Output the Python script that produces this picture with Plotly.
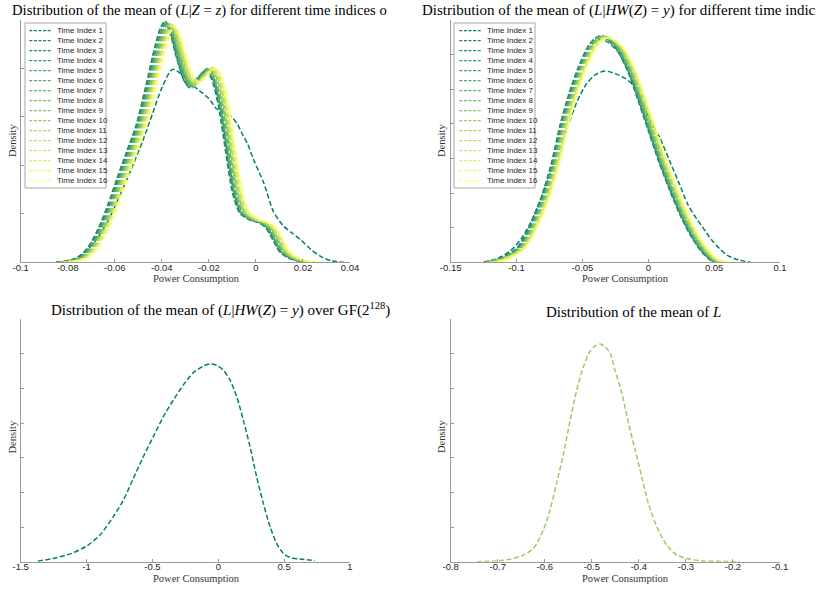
import plotly.graph_objects as go

W, H = 823, 589

# ---------------- data ----------------
LABELS = ["Time Index 1", "Time Index 2", "Time Index 3", "Time Index 4",
          "Time Index 5", "Time Index 6", "Time Index 7", "Time Index 8",
          "Time Index 9", "Time Index 10", "Time Index 11", "Time Index 12",
          "Time Index 13", "Time Index 14", "Time Index 15", "Time Index 16"]

COLORS = ["rgb(0,128,102)", "rgb(17,136,102)", "rgb(34,145,102)", "rgb(51,153,102)",
          "rgb(68,162,102)", "rgb(85,170,102)", "rgb(102,179,102)", "rgb(119,187,102)",
          "rgb(136,196,102)", "rgb(153,204,102)", "rgb(170,213,102)", "rgb(187,221,102)",
          "rgb(204,230,102)", "rgb(221,238,102)", "rgb(238,247,102)", "rgb(255,255,102)"]

# Top-left: (L|Z=z) per time index
TL_X = [
    [-0.085, -0.078, -0.073, -0.068, -0.063, -0.058, -0.053, -0.048, -0.044, -0.040, -0.0355, -0.031, -0.027, -0.024, -0.020, -0.017, -0.0135, -0.0108, -0.008, -0.0055, -0.0035, -0.001, 0.0034, 0.0075, 0.0119, 0.0155, 0.0191, 0.0235, 0.0277, 0.032, 0.0375],
    [-0.085, -0.079, -0.075, -0.071, -0.067, -0.063, -0.059, -0.055, -0.051, -0.047, -0.043, -0.0405, -0.039, -0.037, -0.034, -0.031, -0.0285, -0.025, -0.0215, -0.019, -0.016, -0.013, -0.010, -0.007, -0.003, 0.001, 0.004, 0.007, 0.010, 0.014, 0.019, 0.023],
    [-0.0847, -0.0787, -0.0747, -0.0707, -0.0667, -0.0627, -0.0587, -0.0547, -0.0507, -0.0467, -0.0427, -0.0402, -0.0387, -0.0367, -0.0337, -0.0307, -0.0282, -0.0247, -0.0212, -0.0187, -0.0157, -0.0127, -0.0097, -0.0067, -0.0027, 0.0013, 0.0043, 0.0073, 0.0103, 0.0143, 0.0193, 0.0233],
    [-0.0844, -0.0784, -0.0744, -0.0704, -0.0664, -0.0624, -0.0584, -0.0544, -0.0504, -0.0464, -0.0424, -0.0399, -0.0384, -0.0364, -0.0334, -0.0304, -0.0279, -0.0244, -0.0209, -0.0184, -0.0154, -0.0124, -0.0094, -0.0064, -0.0024, 0.0016, 0.0046, 0.0076, 0.0106, 0.0146, 0.0196, 0.0236],
    [-0.0841, -0.0781, -0.0741, -0.0701, -0.0661, -0.0621, -0.0581, -0.0541, -0.0501, -0.0461, -0.0421, -0.0396, -0.0381, -0.0361, -0.0331, -0.0301, -0.0276, -0.0241, -0.0206, -0.0181, -0.0151, -0.0121, -0.0091, -0.0061, -0.0021, 0.0019, 0.0049, 0.0079, 0.0109, 0.0149, 0.0199, 0.0239],
    [-0.0838, -0.0778, -0.0738, -0.0698, -0.0658, -0.0618, -0.0578, -0.0538, -0.0498, -0.0458, -0.0418, -0.0393, -0.0378, -0.0358, -0.0328, -0.0298, -0.0273, -0.0238, -0.0203, -0.0178, -0.0148, -0.0118, -0.0088, -0.0058, -0.0018, 0.0022, 0.0052, 0.0082, 0.0112, 0.0152, 0.0202, 0.0242],
    [-0.0835, -0.0775, -0.0735, -0.0695, -0.0655, -0.0615, -0.0575, -0.0535, -0.0495, -0.0455, -0.0415, -0.0390, -0.0375, -0.0355, -0.0325, -0.0295, -0.0270, -0.0235, -0.0200, -0.0175, -0.0145, -0.0115, -0.0085, -0.0055, -0.0015, 0.0025, 0.0055, 0.0085, 0.0115, 0.0155, 0.0205, 0.0245],
    [-0.0832, -0.0772, -0.0732, -0.0692, -0.0652, -0.0612, -0.0572, -0.0532, -0.0492, -0.0452, -0.0412, -0.0387, -0.0372, -0.0352, -0.0322, -0.0292, -0.0267, -0.0232, -0.0197, -0.0172, -0.0142, -0.0112, -0.0082, -0.0052, -0.0012, 0.0028, 0.0058, 0.0088, 0.0118, 0.0158, 0.0208, 0.0248],
    [-0.0829, -0.0769, -0.0729, -0.0689, -0.0649, -0.0609, -0.0569, -0.0529, -0.0489, -0.0449, -0.0409, -0.0384, -0.0369, -0.0349, -0.0319, -0.0289, -0.0264, -0.0229, -0.0194, -0.0169, -0.0139, -0.0109, -0.0079, -0.0049, -0.0009, 0.0031, 0.0061, 0.0091, 0.0121, 0.0161, 0.0211, 0.0251],
    [-0.0826, -0.0766, -0.0726, -0.0686, -0.0646, -0.0606, -0.0566, -0.0526, -0.0486, -0.0446, -0.0406, -0.0381, -0.0366, -0.0346, -0.0316, -0.0286, -0.0261, -0.0226, -0.0191, -0.0166, -0.0136, -0.0106, -0.0076, -0.0046, -0.0006, 0.0034, 0.0064, 0.0094, 0.0124, 0.0164, 0.0214, 0.0254],
    [-0.0823, -0.0763, -0.0723, -0.0683, -0.0643, -0.0603, -0.0563, -0.0523, -0.0483, -0.0443, -0.0403, -0.0378, -0.0363, -0.0343, -0.0313, -0.0283, -0.0258, -0.0223, -0.0188, -0.0163, -0.0133, -0.0103, -0.0073, -0.0043, -0.0003, 0.0037, 0.0067, 0.0097, 0.0127, 0.0167, 0.0217, 0.0257],
    [-0.0820, -0.0760, -0.0720, -0.0680, -0.0640, -0.0600, -0.0560, -0.0520, -0.0480, -0.0440, -0.0400, -0.0375, -0.0360, -0.0340, -0.0310, -0.0280, -0.0255, -0.0220, -0.0185, -0.0160, -0.0130, -0.0100, -0.0070, -0.0040, 0.0000, 0.0040, 0.0070, 0.0100, 0.0130, 0.0170, 0.0220, 0.0260],
    [-0.0817, -0.0757, -0.0717, -0.0677, -0.0637, -0.0597, -0.0557, -0.0517, -0.0477, -0.0437, -0.0397, -0.0372, -0.0357, -0.0337, -0.0307, -0.0277, -0.0252, -0.0217, -0.0182, -0.0157, -0.0127, -0.0097, -0.0067, -0.0037, 0.0003, 0.0043, 0.0073, 0.0103, 0.0133, 0.0173, 0.0223, 0.0263],
    [-0.0814, -0.0754, -0.0714, -0.0674, -0.0634, -0.0594, -0.0554, -0.0514, -0.0474, -0.0434, -0.0394, -0.0369, -0.0354, -0.0334, -0.0304, -0.0274, -0.0249, -0.0214, -0.0179, -0.0154, -0.0124, -0.0094, -0.0064, -0.0034, 0.0006, 0.0046, 0.0076, 0.0106, 0.0136, 0.0176, 0.0226, 0.0266],
    [-0.0810, -0.0750, -0.0710, -0.0670, -0.0630, -0.0590, -0.0550, -0.0510, -0.0470, -0.0430, -0.0390, -0.0365, -0.0350, -0.0330, -0.0300, -0.0270, -0.0245, -0.0210, -0.0175, -0.0150, -0.0120, -0.0090, -0.0060, -0.0030, 0.0010, 0.0050, 0.0080, 0.0110, 0.0140, 0.0180, 0.0230, 0.0270],
    [-0.0805, -0.0745, -0.0705, -0.0665, -0.0625, -0.0585, -0.0545, -0.0505, -0.0465, -0.0425, -0.0385, -0.0360, -0.0345, -0.0325, -0.0295, -0.0265, -0.0240, -0.0205, -0.0170, -0.0145, -0.0115, -0.0085, -0.0055, -0.0025, 0.0015, 0.0055, 0.0085, 0.0115, 0.0145, 0.0185, 0.0235, 0.0275],
]
TL_Y = [
    [0, 0.3, 1.0, 2.3, 4.2, 6.8, 9.6, 12.6, 15.3, 18.0, 19.9, 19.3, 18.3, 17.7, 16.9, 15.9, 15.4, 15.1, 14.3, 13.1, 12.2, 10.6, 8.15, 5.2, 3.7, 3.0, 2.3, 1.3, 0.58, 0.15, 0],
    [0, 0.2, 0.6, 1.7, 3.5, 5.9, 8.7, 11.4, 14.1, 18.0, 22.2, 24.2, 24.7, 24.0, 21.3, 19.0, 18.1, 19.0, 19.8, 19.0, 16.2, 11.6, 7.2, 5.1, 4.4, 4.1, 3.6, 2.4, 1.1, 0.4, 0.08, 0],
    [0, 0.2, 0.6, 1.7, 3.5, 5.9, 8.7, 11.4, 14.1, 18.0, 22.4, 24.4, 24.9, 24.1, 21.2, 18.8, 18.0, 18.9, 19.9, 19.1, 16.2, 11.6, 7.2, 5.1, 4.4, 4.1, 3.6, 2.4, 1.1, 0.4, 0.08, 0],
    [0, 0.2, 0.6, 1.7, 3.5, 5.9, 8.7, 11.4, 14.1, 18.0, 22.1, 24.0, 24.6, 23.9, 21.4, 19.1, 18.2, 19.1, 19.7, 18.9, 16.2, 11.6, 7.2, 5.1, 4.4, 4.1, 3.6, 2.4, 1.1, 0.4, 0.08, 0],
    [0, 0.2, 0.6, 1.7, 3.5, 5.9, 8.7, 11.4, 14.1, 18.0, 22.3, 24.3, 24.8, 24.0, 21.2, 18.9, 18.1, 19.2, 20.0, 19.1, 16.2, 11.6, 7.2, 5.1, 4.4, 4.1, 3.6, 2.4, 1.1, 0.4, 0.08, 0],
    [0, 0.2, 0.6, 1.7, 3.5, 5.9, 8.7, 11.4, 14.1, 18.0, 22.0, 24.0, 24.5, 23.8, 21.3, 19.0, 18.2, 19.0, 19.8, 19.0, 16.2, 11.6, 7.2, 5.1, 4.4, 4.1, 3.6, 2.4, 1.1, 0.4, 0.08, 0],
    [0, 0.2, 0.6, 1.7, 3.5, 5.9, 8.7, 11.4, 14.1, 18.0, 22.2, 24.2, 24.7, 23.9, 21.2, 18.9, 18.0, 19.1, 19.9, 19.1, 16.2, 11.6, 7.2, 5.1, 4.4, 4.1, 3.6, 2.4, 1.1, 0.4, 0.08, 0],
    [0, 0.2, 0.6, 1.7, 3.5, 5.9, 8.7, 11.4, 14.1, 18.0, 21.9, 23.9, 24.4, 23.7, 21.3, 19.1, 18.3, 19.0, 19.6, 18.8, 16.2, 11.6, 7.2, 5.1, 4.4, 4.1, 3.6, 2.4, 1.1, 0.4, 0.08, 0],
    [0, 0.2, 0.6, 1.7, 3.5, 5.9, 8.7, 11.4, 14.1, 18.0, 22.1, 24.1, 24.6, 23.8, 21.1, 18.9, 18.2, 19.2, 20.0, 19.2, 16.2, 11.6, 7.2, 5.1, 4.4, 4.1, 3.6, 2.4, 1.1, 0.4, 0.08, 0],
    [0, 0.2, 0.6, 1.7, 3.5, 5.9, 8.7, 11.4, 14.1, 18.0, 22.0, 24.0, 24.5, 23.8, 21.2, 19.0, 18.3, 19.1, 19.8, 19.0, 16.2, 11.6, 7.2, 5.1, 4.4, 4.1, 3.6, 2.4, 1.1, 0.4, 0.08, 0],
    [0, 0.2, 0.6, 1.7, 3.5, 5.9, 8.7, 11.4, 14.1, 18.0, 21.8, 23.8, 24.3, 23.6, 21.2, 19.0, 18.3, 19.2, 19.9, 19.1, 16.2, 11.6, 7.2, 5.1, 4.4, 4.1, 3.6, 2.4, 1.1, 0.4, 0.08, 0],
    [0, 0.2, 0.6, 1.7, 3.5, 5.9, 8.7, 11.4, 14.1, 18.0, 22.0, 24.1, 24.6, 23.9, 21.3, 19.1, 18.4, 19.3, 20.1, 19.2, 16.2, 11.6, 7.2, 5.1, 4.4, 4.1, 3.6, 2.4, 1.1, 0.4, 0.08, 0],
    [0, 0.2, 0.6, 1.7, 3.5, 5.9, 8.7, 11.4, 14.1, 18.0, 21.9, 23.9, 24.4, 23.7, 21.2, 19.0, 18.4, 19.2, 19.9, 19.1, 16.2, 11.6, 7.2, 5.1, 4.4, 4.1, 3.6, 2.4, 1.1, 0.4, 0.08, 0],
    [0, 0.2, 0.6, 1.7, 3.5, 5.9, 8.7, 11.4, 14.1, 18.0, 22.0, 24.0, 24.5, 23.8, 21.3, 19.1, 18.5, 19.3, 20.0, 19.2, 16.2, 11.6, 7.2, 5.1, 4.4, 4.1, 3.6, 2.4, 1.1, 0.4, 0.08, 0],
    [0, 0.2, 0.6, 1.7, 3.5, 5.9, 8.7, 11.4, 14.1, 18.0, 21.8, 23.8, 24.3, 23.6, 21.2, 19.1, 18.5, 19.4, 20.1, 19.3, 16.2, 11.6, 7.2, 5.1, 4.4, 4.1, 3.6, 2.4, 1.1, 0.4, 0.08, 0],
    [0, 0.2, 0.6, 1.7, 3.5, 5.9, 8.7, 11.4, 14.1, 18.0, 21.9, 23.9, 24.4, 23.7, 21.3, 19.2, 18.6, 19.3, 20.0, 19.2, 16.2, 11.6, 7.2, 5.1, 4.4, 4.1, 3.6, 2.4, 1.1, 0.4, 0.08, 0],
]

# Top-right: (L|HW(Z)=y) per time index
TR_X = [
    [-0.125, -0.115, -0.105, -0.097, -0.090, -0.083, -0.076, -0.069, -0.061, -0.054, -0.047, -0.040, -0.0328, -0.025, -0.017, -0.010, -0.004, 0.003, 0.009, 0.016, 0.0229, 0.030, 0.036, 0.0419, 0.048, 0.054, 0.0597, 0.068, 0.0774],
    [-0.125, -0.112, -0.100, -0.091, -0.082, -0.074, -0.067, -0.060, -0.053, -0.046, -0.041, -0.0366, -0.031, -0.024, -0.016, -0.008, 0.000, 0.008, 0.016, 0.024, 0.032, 0.040, 0.046, 0.050],
    [-0.1245, -0.1115, -0.0995, -0.0905, -0.0815, -0.0735, -0.0665, -0.0595, -0.0525, -0.0455, -0.0405, -0.0361, -0.0305, -0.0235, -0.0155, -0.0075, 0.0005, 0.0085, 0.0165, 0.0245, 0.0325, 0.0405, 0.0465, 0.0505],
    [-0.1241, -0.1111, -0.0991, -0.0901, -0.0811, -0.0731, -0.0661, -0.0591, -0.0521, -0.0451, -0.0401, -0.0357, -0.0301, -0.0231, -0.0151, -0.0071, 0.0009, 0.0089, 0.0169, 0.0249, 0.0329, 0.0409, 0.0469, 0.0509],
    [-0.1236, -0.1106, -0.0986, -0.0896, -0.0806, -0.0726, -0.0656, -0.0586, -0.0516, -0.0446, -0.0396, -0.0352, -0.0296, -0.0226, -0.0146, -0.0066, 0.0014, 0.0094, 0.0174, 0.0254, 0.0334, 0.0414, 0.0474, 0.0514],
    [-0.1232, -0.1102, -0.0982, -0.0892, -0.0802, -0.0722, -0.0652, -0.0582, -0.0512, -0.0442, -0.0392, -0.0348, -0.0292, -0.0222, -0.0142, -0.0062, 0.0018, 0.0098, 0.0178, 0.0258, 0.0338, 0.0418, 0.0478, 0.0518],
    [-0.1227, -0.1097, -0.0977, -0.0887, -0.0797, -0.0717, -0.0647, -0.0577, -0.0507, -0.0437, -0.0387, -0.0343, -0.0287, -0.0217, -0.0137, -0.0057, 0.0023, 0.0103, 0.0183, 0.0263, 0.0343, 0.0423, 0.0483, 0.0523],
    [-0.1223, -0.1093, -0.0973, -0.0883, -0.0793, -0.0713, -0.0643, -0.0573, -0.0503, -0.0433, -0.0383, -0.0339, -0.0283, -0.0213, -0.0133, -0.0053, 0.0027, 0.0107, 0.0187, 0.0267, 0.0347, 0.0427, 0.0487, 0.0527],
    [-0.1218, -0.1088, -0.0968, -0.0878, -0.0788, -0.0708, -0.0638, -0.0568, -0.0498, -0.0428, -0.0378, -0.0334, -0.0278, -0.0208, -0.0128, -0.0048, 0.0032, 0.0112, 0.0192, 0.0272, 0.0352, 0.0432, 0.0492, 0.0532],
    [-0.1214, -0.1084, -0.0964, -0.0874, -0.0784, -0.0704, -0.0634, -0.0564, -0.0494, -0.0424, -0.0374, -0.0330, -0.0274, -0.0204, -0.0124, -0.0044, 0.0036, 0.0116, 0.0196, 0.0276, 0.0356, 0.0436, 0.0496, 0.0536],
    [-0.1209, -0.1079, -0.0959, -0.0869, -0.0779, -0.0699, -0.0629, -0.0559, -0.0489, -0.0419, -0.0369, -0.0325, -0.0269, -0.0199, -0.0119, -0.0039, 0.0041, 0.0121, 0.0201, 0.0281, 0.0361, 0.0441, 0.0501, 0.0541],
    [-0.1205, -0.1075, -0.0955, -0.0865, -0.0775, -0.0695, -0.0625, -0.0555, -0.0485, -0.0415, -0.0365, -0.0321, -0.0265, -0.0195, -0.0115, -0.0035, 0.0045, 0.0125, 0.0205, 0.0285, 0.0365, 0.0445, 0.0505, 0.0545],
    [-0.1170, -0.1070, -0.0950, -0.0860, -0.0770, -0.0690, -0.0620, -0.0550, -0.0480, -0.0410, -0.0360, -0.0316, -0.0260, -0.0190, -0.0110, -0.0030, 0.0050, 0.0130, 0.0210, 0.0290, 0.0370, 0.0450, 0.0510, 0.0580],
    [-0.1160, -0.1066, -0.0946, -0.0856, -0.0766, -0.0686, -0.0616, -0.0546, -0.0476, -0.0406, -0.0356, -0.0312, -0.0256, -0.0186, -0.0106, -0.0026, 0.0054, 0.0134, 0.0214, 0.0294, 0.0374, 0.0454, 0.0514, 0.0590],
    [-0.1150, -0.1061, -0.0941, -0.0851, -0.0761, -0.0681, -0.0611, -0.0541, -0.0471, -0.0401, -0.0351, -0.0307, -0.0251, -0.0181, -0.0101, -0.0021, 0.0059, 0.0139, 0.0219, 0.0299, 0.0379, 0.0459, 0.0519, 0.0600],
    [-0.1130, -0.1040, -0.0937, -0.0847, -0.0757, -0.0677, -0.0607, -0.0537, -0.0467, -0.0397, -0.0347, -0.0303, -0.0247, -0.0177, -0.0097, -0.0017, 0.0063, 0.0143, 0.0223, 0.0303, 0.0383, 0.0463, 0.0530, 0.0620],
]
TR_Y = [
    [0, 0.2, 0.65, 1.3, 2.2, 3.4, 4.8, 6.2, 7.9, 9.3, 10.3, 10.85, 11.05, 10.9, 10.6, 10.1, 9.1, 8.0, 7.16, 5.9, 4.66, 3.35, 2.6, 1.96, 1.3, 0.8, 0.42, 0.15, 0],
    [0, 0.25, 0.8, 1.96, 3.6, 5.6, 7.93, 9.8, 11.3, 12.45, 12.9, 13.04, 12.85, 12.3, 11.1, 9.4, 7.6, 5.8, 4.2, 2.75, 1.55, 0.65, 0.18, 0],
    [0, 0.25, 0.8, 1.96, 3.6, 5.6, 7.93, 9.8, 11.3, 12.3, 12.75, 12.9, 12.7, 12.2, 11.1, 9.4, 7.6, 5.8, 4.2, 2.75, 1.55, 0.65, 0.18, 0],
    [0, 0.25, 0.8, 1.96, 3.6, 5.6, 7.93, 9.8, 11.3, 12.5, 12.95, 13.1, 12.9, 12.35, 11.1, 9.4, 7.6, 5.8, 4.2, 2.75, 1.55, 0.65, 0.18, 0],
    [0, 0.25, 0.8, 1.96, 3.6, 5.6, 7.93, 9.8, 11.3, 12.4, 12.85, 13.0, 12.8, 12.3, 11.1, 9.4, 7.6, 5.8, 4.2, 2.75, 1.55, 0.65, 0.18, 0],
    [0, 0.25, 0.8, 1.96, 3.6, 5.6, 7.93, 9.8, 11.3, 12.45, 12.9, 13.05, 12.85, 12.3, 11.1, 9.4, 7.6, 5.8, 4.2, 2.75, 1.55, 0.65, 0.18, 0],
    [0, 0.25, 0.8, 1.96, 3.6, 5.6, 7.93, 9.8, 11.3, 12.4, 12.85, 13.0, 12.82, 12.28, 11.1, 9.4, 7.6, 5.8, 4.2, 2.75, 1.55, 0.65, 0.18, 0],
    [0, 0.25, 0.8, 1.96, 3.6, 5.6, 7.93, 9.8, 11.3, 12.5, 12.95, 13.08, 12.9, 12.35, 11.1, 9.4, 7.6, 5.8, 4.2, 2.75, 1.55, 0.65, 0.18, 0],
    [0, 0.25, 0.8, 1.96, 3.6, 5.6, 7.93, 9.8, 11.3, 12.42, 12.88, 13.02, 12.84, 12.3, 11.1, 9.4, 7.6, 5.8, 4.2, 2.75, 1.55, 0.65, 0.18, 0],
    [0, 0.25, 0.8, 1.96, 3.6, 5.6, 7.93, 9.8, 11.3, 12.45, 12.9, 13.05, 12.86, 12.32, 11.1, 9.4, 7.6, 5.8, 4.2, 2.75, 1.55, 0.65, 0.18, 0],
    [0, 0.25, 0.8, 1.96, 3.6, 5.6, 7.93, 9.8, 11.3, 12.4, 12.85, 13.0, 12.82, 12.3, 11.1, 9.4, 7.6, 5.8, 4.2, 2.75, 1.55, 0.65, 0.18, 0],
    [0, 0.25, 0.8, 1.96, 3.6, 5.6, 7.93, 9.8, 11.3, 12.44, 12.9, 13.04, 12.85, 12.32, 11.1, 9.4, 7.6, 5.8, 4.2, 2.75, 1.55, 0.65, 0.18, 0],
    [0, 0.25, 0.8, 1.96, 3.6, 5.6, 7.93, 9.8, 11.3, 12.38, 12.84, 12.98, 12.8, 12.28, 11.1, 9.4, 7.6, 5.8, 4.2, 2.75, 1.55, 0.65, 0.18, 0],
    [0, 0.25, 0.8, 1.96, 3.6, 5.6, 7.93, 9.8, 11.3, 12.42, 12.88, 13.02, 12.84, 12.3, 11.1, 9.4, 7.6, 5.8, 4.2, 2.75, 1.55, 0.65, 0.18, 0],
    [0, 0.25, 0.8, 1.96, 3.6, 5.6, 7.93, 9.8, 11.3, 12.36, 12.82, 12.96, 12.78, 12.26, 11.1, 9.4, 7.6, 5.8, 4.2, 2.75, 1.55, 0.65, 0.18, 0],
    [0, 0.25, 0.8, 1.96, 3.6, 5.6, 7.93, 9.8, 11.3, 12.38, 12.84, 12.98, 12.8, 12.28, 11.1, 9.4, 7.6, 5.8, 4.2, 2.75, 1.55, 0.65, 0.18, 0],
]

# Bottom-left: (L|HW(Z)=y) over GF(2^128)
BL_X = [-1.37, -1.252, -1.113, -1.0, -0.898, -0.797, -0.72, -0.645, -0.569, -0.493, -0.417, -0.341, -0.265, -0.189, -0.113, -0.063, -0.012, 0.038, 0.089, 0.14, 0.19, 0.241, 0.291, 0.342, 0.393, 0.443, 0.494, 0.544, 0.62, 0.734]
BL_Y = [0.003, 0.019, 0.048, 0.09, 0.154, 0.26, 0.356, 0.481, 0.607, 0.722, 0.838, 0.934, 1.021, 1.092, 1.13, 1.142, 1.134, 1.107, 1.05, 0.953, 0.818, 0.664, 0.491, 0.337, 0.202, 0.106, 0.048, 0.025, 0.015, 0.006]

# Bottom-right: mean of L
BR_X = [-0.745, -0.702, -0.674, -0.646, -0.624, -0.603, -0.589, -0.575, -0.560, -0.546, -0.532, -0.518, -0.504, -0.493, -0.482, -0.472, -0.461, -0.451, -0.436, -0.422, -0.408, -0.394, -0.380, -0.362, -0.341, -0.319, -0.291, -0.263, -0.230, -0.185]
BR_Y = [0, 0.02, 0.07, 0.19, 0.385, 0.915, 1.49, 2.26, 3.13, 4.09, 4.96, 5.63, 6.07, 6.23, 6.29, 6.21, 6.02, 5.54, 4.86, 4.0, 3.23, 2.46, 1.69, 1.01, 0.48, 0.19, 0.07, 0.02, 0.01, 0.0]

TL_XT = [-0.1, -0.08, -0.06, -0.04, -0.02, 0, 0.02, 0.04]
TL_XL = ["-0.1", "-0.08", "-0.06", "-0.04", "-0.02", "0", "0.02", "0.04"]
TR_XT = [-0.15, -0.1, -0.05, 0, 0.05, 0.1]
TR_XL = ["-0.15", "-0.1", "-0.05", "0", "0.05", "0.1"]
BL_XT = [-1.5, -1, -0.5, 0, 0.5, 1]
BL_XL = ["-1.5", "-1", "-0.5", "0", "0.5", "1"]
BR_XT = [-0.8, -0.7, -0.6, -0.5, -0.4, -0.3, -0.2, -0.1]
BR_XL = ["-0.8", "-0.7", "-0.6", "-0.5", "-0.4", "-0.3", "-0.2", "-0.1"]
TL_YT = [0, 5, 10, 15, 20, 25]
TR_YT = [0, 2, 4, 6, 8, 10, 12, 14]
BL_YT = [0, 0.2, 0.4, 0.6, 0.8, 1.0, 1.2, 1.4]
BR_YT = [0, 1, 2, 3, 4, 5, 6, 7]

BL_COLOR = "rgb(0,128,102)"
BR_COLOR = "rgb(153,204,102)"

# ---------------- figure ----------------
def fx(p):
    return p / W


def fy(p):
    return 1 - p / H


AX_COL = "#9a9a9a"
TXT = "#262626"
SERIF = "Liberation Serif"
SANS = "Liberation Sans"
DASH = "5px,2.5px"

fig = go.Figure()

for i in range(16):
    fig.add_trace(go.Scatter(x=TL_X[i], y=TL_Y[i], mode="lines", xaxis="x", yaxis="y",
                             line=dict(color=COLORS[i], width=1.5, dash=DASH, shape="spline", smoothing=0.7),
                             hoverinfo="skip", showlegend=False))
for i in range(16):
    fig.add_trace(go.Scatter(x=TR_X[i], y=TR_Y[i], mode="lines", xaxis="x2", yaxis="y2",
                             line=dict(color=COLORS[i], width=1.5, dash=DASH, shape="spline", smoothing=0.7),
                             hoverinfo="skip", showlegend=False))
fig.add_trace(go.Scatter(x=BL_X, y=BL_Y, mode="lines", xaxis="x3", yaxis="y3",
                         line=dict(color=BL_COLOR, width=1.5, dash=DASH, shape="spline", smoothing=0.7),
                         hoverinfo="skip", showlegend=False))
fig.add_trace(go.Scatter(x=BR_X, y=BR_Y, mode="lines", xaxis="x4", yaxis="y4",
                         line=dict(color=BR_COLOR, width=1.5, dash=DASH, shape="spline", smoothing=0.7),
                         hoverinfo="skip", showlegend=False))


def xax(dom, rng, tv, tt, anchor):
    return dict(domain=dom, range=rng, tickvals=tv, ticktext=tt, anchor=anchor, automargin=False,
                showline=True, linecolor=AX_COL, linewidth=1, ticks="inside", ticklen=3,
                tickcolor=AX_COL, showgrid=False, zeroline=False, fixedrange=True,
                ticklabelstandoff=-4,
                tickfont=dict(family=SANS, size=9.5, color=TXT))


def yax(dom, rng, tv, anchor):
    return dict(domain=dom, range=rng, tickvals=tv, anchor=anchor, showticklabels=False, automargin=False,
                showline=True, linecolor=AX_COL, linewidth=1, ticks="inside", ticklen=3,
                tickcolor=AX_COL, showgrid=False, zeroline=False, fixedrange=True)


LEFT_D = [fx(20.7), fx(350)]
RIGHT_D = [fx(450.7), fx(780)]
TOP_D = [fy(262.3), fy(20)]
BOT_D = [fy(561.7), fy(319.3)]

fig.update_layout(
    template="none",
    width=W, height=H, margin=dict(l=0, r=0, t=0, b=0, pad=0), autosize=False,
    paper_bgcolor="white", plot_bgcolor="white", showlegend=False,
    xaxis=xax(LEFT_D, [-0.1, 0.04], TL_XT, TL_XL, "y"),
    yaxis=yax(TOP_D, [0, 25], TL_YT, "x"),
    xaxis2=xax(RIGHT_D, [-0.15, 0.1], TR_XT, TR_XL, "y2"),
    yaxis2=yax(TOP_D, [0, 14], TR_YT, "x2"),
    xaxis3=xax(LEFT_D, [-1.5, 1], BL_XT, BL_XL, "y3"),
    yaxis3=yax(BOT_D, [0, 1.4], BL_YT, "x3"),
    xaxis4=xax(RIGHT_D, [-0.8, -0.1], BR_XT, BR_XL, "y4"),
    yaxis4=yax(BOT_D, [0, 7], BR_YT, "x4"),
)

ann = []


def text(x, y, s, size, family=SERIF, color="#000", xanchor="center", angle=0):
    ann.append(dict(x=fx(x), y=fy(y), xref="paper", yref="paper", text=s, showarrow=False,
                    xanchor=xanchor, yanchor="middle", textangle=angle,
                    font=dict(family=family, size=size, color=color)))


# titles
text(10, 10, "Distribution of the mean of (<i>L</i>|<i>Z</i> = <i>z</i>) for different time indices o", 14.7, xanchor="left")
text(420, 10, "Distribution of the mean of (<i>L</i>|<i>HW</i>(<i>Z</i>) = <i>y</i>) for different time indic", 15, xanchor="left")
text(220, 309, "Distribution of the mean of (<i>L</i>|<i>HW</i>(<i>Z</i>) = <i>y</i>) over GF(2<sup>128</sup>)", 15)
text(633.5, 312, "Distribution of the mean of <i>L</i>", 15)

# axis labels
for cx, cy in [(196, 278.5), (625.5, 278.5), (196, 578), (625.5, 578)]:
    text(cx, cy, "Power Consumption", 10.5, color="#333")
for cx, cy in [(12, 141), (441, 141), (11.5, 437), (441, 437)]:
    text(cx, cy, "Density", 10.5, color="#333", angle=-90)

# legends (drawn box, dashed samples, labels)
shapes = []
for bx0, bx1, lx0, lx1, tx in [(25, 106, 29.3, 51.3, 55.3), (454, 535, 459.3, 481.7, 485)]:
    shapes.append(dict(type="rect", xref="paper", yref="paper", x0=fx(bx0), x1=fx(bx1),
                       y0=fy(188), y1=fy(23), line=dict(color="#a6a6a6", width=1),
                       fillcolor="white", layer="above"))
    for i, lab in enumerate(LABELS):
        yy = 30.7 + 10 * i
        shapes.append(dict(type="line", xref="paper", yref="paper", x0=fx(lx0), x1=fx(lx1),
                           y0=fy(yy), y1=fy(yy), line=dict(color=COLORS[i], width=1.3, dash="3px,1.6px"),
                           layer="above"))
        text(tx, yy, lab, 8, family=SANS, color=TXT, xanchor="left")

fig.update_layout(annotations=ann, shapes=shapes)

fig.write_html("out.html", config={"displayModeBar": False, "staticPlot": True},
               post_script="document.body.style.margin='0px';")
